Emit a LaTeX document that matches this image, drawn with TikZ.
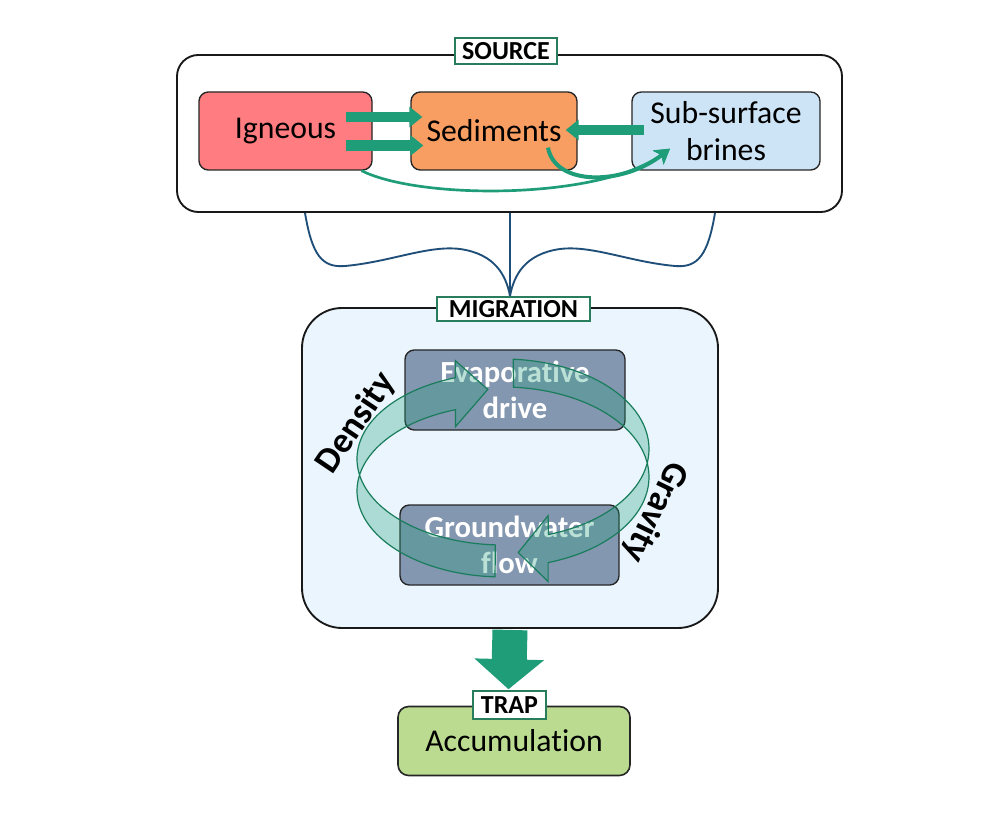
\documentclass[tikz,border=0pt]{standalone}
\usepackage{fontspec}
\setmainfont{Carlito}[Ligatures={NoCommon}]
\usetikzlibrary{arrows.meta,calc}
\definecolor{agreen}{RGB}{30,157,120}
\definecolor{ringline}{RGB}{25,125,92}
\definecolor{ignfill}{RGB}{255,124,128}
\definecolor{sedfill}{RGB}{248,158,98}
\definecolor{brnfill}{RGB}{205,228,246}
\definecolor{migfill}{RGB}{234,245,253}
\definecolor{boxblue}{RGB}{132,151,176}
\definecolor{accfill}{RGB}{187,220,144}
\definecolor{bracecol}{RGB}{31,78,121}
\definecolor{lblline}{RGB}{40,125,92}
\begin{document}
\begin{tikzpicture}[x=0.75pt,y=-0.75pt,
  box/.style={draw=black!85,line width=1pt,rounded corners=7pt,inner sep=0pt,align=center,
    font=\fontsize{23.8}{27.5}\selectfont},
  wbox/.style={box,fill=boxblue,text=white,font=\bfseries\fontsize{23}{27}\selectfont},
  frame/.style={draw=black!90,line width=1.4pt,inner sep=0pt},
  lbl/.style={draw=lblline,line width=1.1pt,fill=white,inner sep=0pt,
    font=\bfseries\fontsize{19.5}{21}\selectfont},
  blk/.style={draw=agreen,line width=8pt,-{Triangle[width=15pt,length=9.75pt]}},
  carrow/.style={draw=agreen,-{Stealth[width=13pt,length=11pt,inset=3pt]}},
  bigarrow/.style={draw=agreen,line width=26.25pt,-{Triangle[width=51pt,length=22.5pt]}},
  ring/.style={fill=agreen,fill opacity=0.3,draw=ringline,line width=0.9pt,draw opacity=1},
  brace/.style={draw=bracecol,line width=1.4pt},
  side/.style={font=\bfseries\fontsize{27}{30}\selectfont}]
\useasboundingbox (0,0) rectangle (1000,827);
\fill[white] (0,0) rectangle (1000,827);

% SOURCE
\node[frame,rounded corners=16pt,minimum width=498.75pt,minimum height=117.75pt] (src) at (509.5,133.5) {};
\node[lbl,minimum width=76.5pt,minimum height=19.5pt] (srclbl) at (506,51) {SOURCE};
\node[box,fill=ignfill,minimum width=129.75pt,minimum height=58.5pt] (ign) at (285.5,131) {\raisebox{-2pt}{Igneous}};
\node[box,fill=sedfill,minimum width=124.5pt,minimum height=58.5pt] (sed) at (494,131) {Sediments};
\node[box,fill=brnfill,minimum width=141pt,minimum height=58.5pt] (brn) at (726,131) {Sub-surface\\brines};

\draw[blk] ($(ign.east)+(-27,-14)$) -- ($(sed.west)+(12,-14)$);
\draw[blk] ($(ign.east)+(-27,14.5)$) -- ($(sed.west)+(13,14.5)$);
\draw[blk] ($(brn.west)+(13,-1)$) -- ($(sed.east)+(-12,-1)$);

\coordinate (cend) at ($(brn.south)+(-56,-22)$);
\draw[carrow,line width=2pt] ($(ign.south)+(76,0)$) .. controls (420,200) and (600,200) .. (cend);
\draw[carrow,line width=3pt] ($(sed.south)+(54,-23)$) .. controls (555,186) and (622,186) .. (cend);

% brace
\coordinate (bl) at ($(src.south)+(-204.5,0)$);
\coordinate (br) at ($(src.south)+(205.5,0)$);
\coordinate (bm) at ($(src.south)+(0.5,0)$);
\coordinate (btip) at (510,296);
\draw[brace] (bl) .. controls (312,255) and (322,268) .. (345,266)
  .. controls (390,262) and (428,245) .. (460,249)
  .. controls (495,254) and (506,275) .. (btip);
\draw[brace] (br) .. controls (708,255) and (698,268) .. (675,266)
  .. controls (630,262) and (592,245) .. (560,249)
  .. controls (525,254) and (514,275) .. (btip);
\draw[brace] (bm) -- (btip);

% MIGRATION
\node[frame,fill=migfill,rounded corners=30pt,minimum width=312pt,minimum height=240pt] (mig) at (510,468) {};
\node[lbl,minimum width=114.75pt,minimum height=18pt] (miglbl) at (513.5,309) {MIGRATION};
\node[wbox,minimum width=165pt,minimum height=60pt] (evap) at (515,390) {Evaporative\\drive};
\node[wbox,minimum width=164.25pt,minimum height=60pt] (gw) at (509.5,545) {Groundwater\\flow};

\def\rcx{503}\def\rrx{146}
% left arrow (Density), upward to the top
\def\lcy{475}\def\lry{86}\def\lh{16}\def\lw{33}
\filldraw[ring] plot[domain=0:1,samples=70,variable=\t]
   ({\rcx+\rrx*cos(267-158*\t)},{\lcy-\lry*sin(267-158*\t)-\lh})
 -- ({\rcx+\rrx*cos(109)},{\lcy-\lry*sin(109)-\lw})
 -- ({\rcx+\rrx*cos(96)},{\lcy-\lry*sin(96)})
 -- ({\rcx+\rrx*cos(109)},{\lcy-\lry*sin(109)+\lw})
 -- plot[domain=0:1,samples=70,variable=\t]
   ({\rcx+\rrx*cos(109+158*\t)},{\lcy-\lry*sin(109+158*\t)+\lh})
 -- cycle;
% right arrow (Gravity), downward to the bottom
\def\qcy{463}\def\qry{90}\def\qh{14}\def\qw{33}
\filldraw[ring] plot[domain=0:1,samples=70,variable=\t]
   ({\rcx+\rrx*cos(86-158*\t)},{\qcy-\qry*sin(86-158*\t)-\qh})
 -- ({\rcx+\rrx*cos(-72)},{\qcy-\qry*sin(-72)-\qw})
 -- ({\rcx+\rrx*cos(-84)},{\qcy-\qry*sin(-84)})
 -- ({\rcx+\rrx*cos(-72)},{\qcy-\qry*sin(-72)+\qw})
 -- plot[domain=0:1,samples=70,variable=\t]
   ({\rcx+\rrx*cos(-72+158*\t)},{\qcy-\qry*sin(-72+158*\t)+\qh})
 -- cycle;

\node[side,rotate=56] (dens) at (356,423) {Density};
\node[side,rotate=-116] (grav) at (655,512) {Gravity};

% TRAP
\node[box,fill=accfill,rounded corners=8pt,line width=1.2pt,minimum width=174pt,minimum height=51.75pt] (acc) at (514,741) {\raisebox{-3pt}{Accumulation}};
\node[lbl,minimum width=54.75pt,minimum height=21pt] (trap) at (509.5,705) {TRAP};
\draw[bigarrow] ($(mig.south)+(0,1)$) -- ($(trap.north)+(-1,-1)$);
\end{tikzpicture}
\end{document}
